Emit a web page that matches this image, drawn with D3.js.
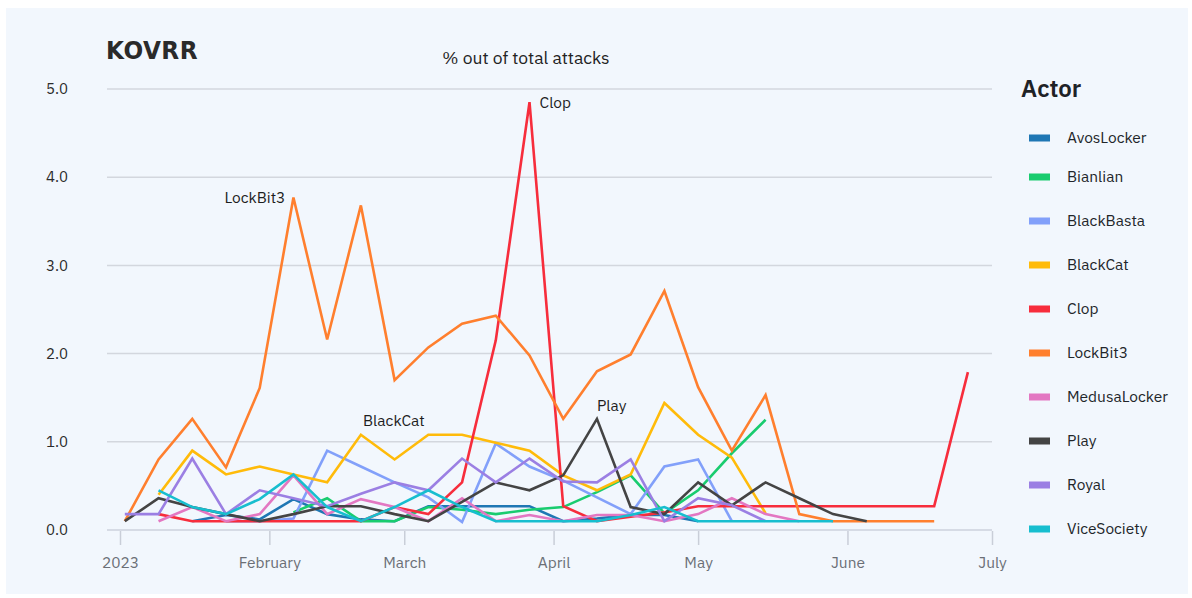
<!DOCTYPE html>
<html><head><meta charset="utf-8">
<script src="https://cdn.jsdelivr.net/npm/d3@7"></script>
<style>
html,body{margin:0;padding:0;background:#fff;}
svg{display:block;font-family:"IBM Plex Sans",Inter,"Noto Sans",sans-serif;}
</style></head>
<body><svg id="c" width="1192" height="598"></svg>
<script>
const weeks = ["2023-01-02","2023-01-09","2023-01-16","2023-01-23","2023-01-30","2023-02-06","2023-02-13","2023-02-20","2023-02-27","2023-03-06","2023-03-13","2023-03-20","2023-03-27","2023-04-03","2023-04-10","2023-04-17","2023-04-24","2023-05-01","2023-05-08","2023-05-15","2023-05-22","2023-05-29","2023-06-05","2023-06-12","2023-06-19","2023-06-26"];
const actors = ["AvosLocker","Bianlian","BlackBasta","BlackCat","Clop","LockBit3","MedusaLocker","Play","Royal","ViceSociety"];
const colors = ["#1f77b4","#19cc6f","#82a0fa","#ffbb0a","#f72d3c","#ff7f2e","#e377c2","#444444","#9b7fe3","#17becf"];
const avosLocker   = [null,null,0.1,0.17,0.12,0.35,0.18,0.12,0.1,0.27,0.27,0.27,0.27,0.1,0.13,0.17,0.17,0.1,null,null,null,null,null,null,null,null];
const bianlian     = [null,null,null,null,null,0.2,0.36,0.1,0.1,0.26,0.23,0.18,0.23,0.26,0.43,0.62,0.19,0.45,0.87,1.25,null,null,null,null,null,null];
const blackBasta   = [null,null,null,0.1,0.1,0.13,0.9,0.72,0.54,0.37,0.09,0.98,0.72,0.56,0.37,0.18,0.72,0.8,0.1,null,null,null,null,null,null,null];
const blackCat     = [null,0.4,0.9,0.63,0.72,0.63,0.54,1.08,0.8,1.08,1.08,0.99,0.9,0.62,0.45,0.63,1.44,1.08,0.82,0.19,null,null,null,null,null,null];
const clop         = [null,0.18,0.1,0.1,0.1,0.1,0.1,0.1,0.26,0.18,0.54,2.15,4.85,0.27,0.1,0.15,0.2,0.27,0.27,0.27,0.27,0.27,0.27,0.27,0.27,1.79];
const lockBit3     = [0.1,0.8,1.26,0.71,1.61,3.77,2.16,3.68,1.7,2.07,2.34,2.43,1.98,1.26,1.8,1.99,2.71,1.62,0.9,1.53,0.18,0.1,0.1,0.1,0.1,null];
const medusaLocker = [null,0.1,0.26,0.1,0.18,0.62,0.18,0.35,0.26,0.1,0.36,0.1,0.17,0.1,0.17,0.17,0.1,0.18,0.36,0.18,0.1,null,null,null,null,null];
const play         = [0.1,0.36,0.26,0.18,0.1,0.18,0.27,0.27,0.18,0.1,0.32,0.54,0.45,0.62,1.26,0.26,0.18,0.54,0.28,0.54,0.36,0.18,0.1,null,null,null];
const royal        = [0.18,0.18,0.81,0.18,0.45,0.36,0.27,0.41,0.54,0.45,0.81,0.54,0.81,0.55,0.54,0.8,0.1,0.36,0.28,0.1,null,null,null,null,null,null];
const viceSociety  = [null,0.45,0.26,0.18,0.35,0.63,0.26,0.1,0.26,0.45,0.26,0.1,0.1,0.1,0.1,0.17,0.26,0.1,0.1,0.1,0.1,0.1,null,null,null,null];
const seriesValues = [avosLocker,bianlian,blackBasta,blackCat,clop,lockBit3,medusaLocker,play,royal,viceSociety];
const yTicks = [0,1,2,3,4,5];
const monthTicks = ["2023-01-01","2023-02-01","2023-03-01","2023-04-01","2023-05-01","2023-06-01","2023-07-01"];
const monthLabels = ["2023","February","March","April","May","June","July"];
const annotations = [
  {actor:"LockBit3", week:5, text:"LockBit3", pos:"left"},
  {actor:"Clop", week:12, text:"Clop", pos:"right"},
  {actor:"BlackCat", week:7, text:"BlackCat", pos:"aboveRight"},
  {actor:"Play", week:14, text:"Play", pos:"above"}
];

const parse = d3.utcParse("%Y-%m-%d");
const svg = d3.select("#c");
svg.append("rect").attr("x",6).attr("y",8).attr("width",1182).attr("height",586).attr("fill","#f2f7fd");

const x = d3.scaleUtc().domain([parse("2023-01-01"), parse("2023-07-01")]).range([120, 992]);
const y = d3.scaleLinear().domain([0,5]).range([530, 89]);

// grid
const grid = svg.append("g");
grid.selectAll("line").data(yTicks).join("line")
  .attr("x1",107).attr("x2",992).attr("y1",d=>y(d)).attr("y2",d=>y(d))
  .attr("stroke",d=>d===0?"#cdd2dc":"#d3d7de").attr("stroke-width",1.5);
grid.selectAll("text").data(yTicks).join("text")
  .attr("x",68).attr("y",d=>y(d)).attr("dy","0.35em").attr("text-anchor","end")
  .attr("font-size",15).attr("fill","#2b2b2b").text(d=>d3.format(".1f")(d));

// x axis
const xAxis = d3.axisBottom(x).tickValues(monthTicks.map(parse)).tickSize(14)
  .tickFormat((d,i)=>monthLabels[i]);
const gx = svg.append("g").attr("transform","translate(0,531)").call(xAxis);
gx.select(".domain").remove();
gx.selectAll(".tick line").attr("stroke","#c9ced8").attr("stroke-width",1.5);
gx.selectAll(".tick text").attr("font-size",15.5).attr("fill","#6b6f76").attr("dy","1.3em")
  .style("font-family",'"IBM Plex Sans",Inter,"Noto Sans",sans-serif');

// lines
const line = d3.line().defined(d=>d.v!==null).x(d=>x(d.t)).y(d=>y(d.v));
const dates = weeks.map(parse);
actors.forEach((a,k)=>{
  const pts = dates.map((t,i)=>({t, v: seriesValues[k][i]}));
  svg.append("path").datum(pts).attr("d",line).attr("fill","none")
    .attr("stroke",colors[k]).attr("stroke-width",2.6).attr("stroke-linejoin","miter");
});

// annotations
annotations.forEach(an=>{
  const k = actors.indexOf(an.actor);
  const px = x(dates[an.week]), py = y(seriesValues[k][an.week]);
  let tx=px, ty=py, anchor="middle";
  if(an.pos==="left"){tx=px-8; anchor="end";}
  if(an.pos==="right"){tx=px+10; anchor="start";}
  if(an.pos==="above"){tx=px; ty=py-13; anchor="start";}
  if(an.pos==="aboveRight"){tx=px+33; ty=py-14; anchor="middle";}
  svg.append("text").attr("x",tx).attr("y",ty).attr("dy","0.35em").attr("text-anchor",anchor)
    .attr("font-size",15.5).attr("fill","#1e1e1e").text(an.text);
});

// title & logo
svg.append("text").attr("x",526).attr("y",58).attr("dy","0.35em").attr("text-anchor","middle")
  .attr("font-size",17.5).attr("fill","#222").text("% out of total attacks");
svg.append("text").attr("x",106).attr("y",50).attr("dy","0.35em")
  .attr("font-size",25).attr("font-weight",900).attr("fill","#2a2a2a")
  .attr("letter-spacing",0.5).style("font-family","'DejaVu Sans',sans-serif")
  .attr("textLength",92).attr("lengthAdjust","spacingAndGlyphs").text("KOVRR");

// legend
svg.append("text").attr("x",1021).attr("y",89).attr("dy","0.35em")
  .attr("font-size",24).attr("font-weight",600).attr("fill","#1e2226").text("Actor");
const lg = svg.append("g");
actors.forEach((a,k)=>{
  const yy = k===0 ? 138 : 177 + (k-1)*44;
  lg.append("rect").attr("x",1029).attr("y",yy-3.5).attr("width",21).attr("height",7).attr("fill",colors[k]);
  lg.append("text").attr("x",1067).attr("y",yy).attr("dy","0.35em").attr("font-size",15.5)
    .attr("fill","#22262a").text(a);
});
</script></body></html>
